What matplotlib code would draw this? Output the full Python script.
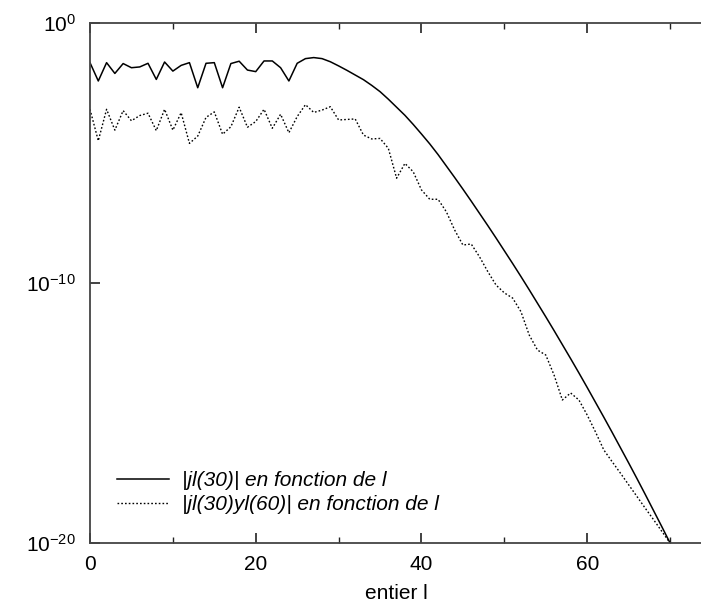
import numpy as np
import matplotlib
matplotlib.use("Agg")
import matplotlib.pyplot as plt
from matplotlib.ticker import FixedLocator, LogFormatterMathtext

plt.rcParams['font.family'] = ['Liberation Sans', 'DejaVu Sans']
plt.rcParams['mathtext.fontset'] = 'custom'
plt.rcParams['mathtext.rm'] = 'Liberation Sans'
plt.rcParams['mathtext.it'] = 'Liberation Sans:italic'

# l index
l_values = list(range(0, 71))

# log10 |jl(30)|
log_jl30 = [-1.525, -2.23, -1.525, -1.94, -1.56, -1.72, -1.69, -1.55, -2.17, -1.50,
            -1.85, -1.63, -1.525, -2.49, -1.55, -1.525, -2.49, -1.56, -1.47, -1.81,
            -1.87, -1.46, -1.46, -1.72, -2.23, -1.55, -1.37, -1.33, -1.37, -1.49,
            -1.65, -1.82, -2.00, -2.18, -2.40, -2.64, -2.93, -3.24, -3.55, -3.90,
            -4.27, -4.65, -5.06, -5.50, -5.94, -6.39, -6.85, -7.32, -7.79, -8.27,
            -8.76, -9.25, -9.75, -10.26, -10.78, -11.30, -11.83, -12.37, -12.91, -13.46,
            -14.02, -14.59, -15.16, -15.74, -16.33, -16.92, -17.52, -18.13, -18.75, -19.37,
            -20.0]

# log10 |jl(30) yl(60)|
log_jl30_yl60 = [-3.32, -4.53, -3.32, -4.12, -3.37, -3.76, -3.56, -3.47, -4.14, -3.32,
                 -4.12, -3.45, -4.63, -4.35, -3.63, -3.42, -4.28, -3.99, -3.24, -4.01,
                 -3.79, -3.32, -4.05, -3.51, -4.22, -3.60, -3.14, -3.44, -3.35, -3.22,
                 -3.73, -3.71, -3.69, -4.31, -4.46, -4.44, -4.82, -5.97, -5.40, -5.72,
                 -6.42, -6.78, -6.78, -7.26, -7.96, -8.54, -8.50, -8.99, -9.56, -10.08,
                 -10.38, -10.58, -11.10, -12.00, -12.58, -12.77, -13.54, -14.50, -14.23, -14.50,
                 -15.08, -15.73, -16.42, -16.87, -17.31, -17.76, -18.21, -18.66, -19.10, -19.55,
                 -20.0]

x_ticks = [0, 20, 40, 60]
y_ticks = [1e-20, 1e-10, 1e0]
legend_labels = ["|jl(30)| en fonction de l", "|jl(30)yl(60)| en fonction de l"]
x_label = "entier l"

W, H = 701, 604
fig = plt.figure(figsize=(W / 100, H / 100), dpi=100)
ax = fig.add_axes([90 / W, 61 / H, (W - 90) / W + 0.002, (543 - 23) / H])

l_arr = np.array(l_values)
ax.plot(l_arr, 10.0 ** np.array(log_jl30), color='black', lw=1.1, label=legend_labels[0])
ax.plot(l_arr, 10.0 ** np.array(log_jl30_yl60), color='black', lw=1.0,
        linestyle=(0, (1.2, 1.5)), label=legend_labels[1])

ax.set_yscale('log')
ax.set_ylim(1e-20, 1e0)
ax.set_xlim(0, 73.9)

ax.yaxis.set_major_locator(FixedLocator(y_ticks))
ax.yaxis.set_major_formatter(LogFormatterMathtext())
ax.yaxis.set_minor_locator(FixedLocator([]))
ax.xaxis.set_major_locator(FixedLocator(x_ticks))
ax.xaxis.set_minor_locator(FixedLocator([10, 30, 50, 70]))

for s in ['left', 'top', 'bottom']:
    ax.spines[s].set_color('#444444')
    ax.spines[s].set_linewidth(1.3)
ax.spines['right'].set_visible(False)

ax.tick_params(axis='both', which='both', direction='in', top=True, right=False,
               labelsize=15, color='#222222', pad=9)
ax.tick_params(axis='both', which='major', length=7, width=1.2)
ax.tick_params(axis='both', which='minor', length=4, width=1.0)
ax.tick_params(axis='y', which='major', pad=10)

ax.set_xlabel(x_label, fontsize=15, labelpad=7)

leg = ax.legend(loc='upper left', bbox_to_anchor=(117 / W, 1 - 471 / H),
                bbox_transform=fig.transFigure, frameon=False,
                prop={'style': 'italic', 'size': 15}, handlelength=2.5,
                handletextpad=0.6, labelspacing=0.25, borderpad=0, borderaxespad=0)

fig.savefig('out.png', dpi=100)
